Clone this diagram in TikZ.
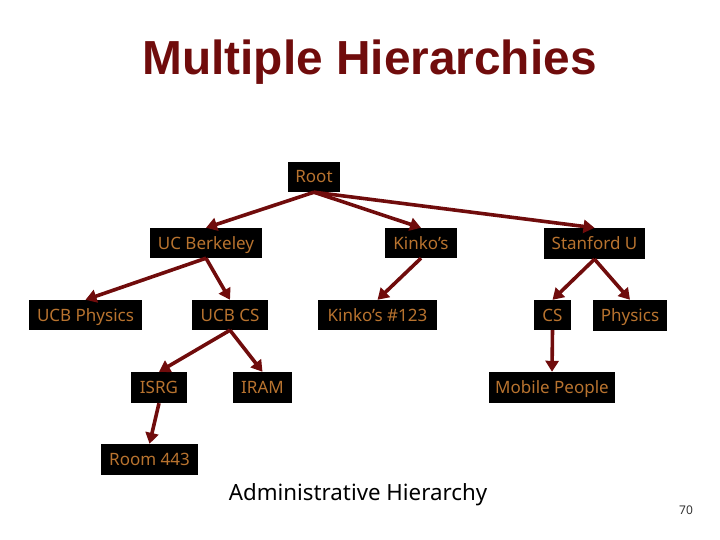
\documentclass[tikz,border=0pt]{standalone}
\usepackage{fontspec}
\setmainfont{Noto Sans}
\newfontfamily\titlefont{Liberation Sans}
\usetikzlibrary{arrows.meta}
\definecolor{darkred}{HTML}{700C0C}
\definecolor{labelc}{HTML}{B8732F}
\tikzset{
  box/.style={fill=black,text=labelc,inner sep=0pt,text height=16pt,text depth=4pt,font=\fontsize{17}{20}\selectfont},
  link/.style={draw=darkred,line width=3.6pt,-{Triangle[length=11pt,width=13pt]}}
}
\newcommand{\bx}[6]{\node[box,minimum width=#4pt-#3pt,minimum height=#6pt-#5pt] (#1) at ({(#3+#4)/2},{(#5+#6)/2}) {#2};}
\begin{document}
\begin{tikzpicture}[x=1pt,y=-1pt]
\useasboundingbox (0,0) rectangle (720,540);
\node[text=darkred,inner sep=0pt,font=\titlefont\bfseries\fontsize{47.8}{50}\selectfont] (title) at (369.5,62.5) {Multiple Hierarchies};
\bx{root}{Root}{288}{340}{162}{192}
\bx{ucb}{UC Berkeley}{150}{262}{228}{258}
\bx{kin}{Kinko’s}{385}{457}{228}{258}
\bx{stan}{Stanford U}{544}{645}{228}{259}
\bx{phys}{UCB Physics}{29}{142}{300}{330}
\bx{ucbcs}{UCB CS}{192}{268}{300}{330}
\bx{kin2}{Kinko’s \#123}{318}{437}{300}{330}
\bx{cs}{CS}{534}{571}{300}{330}
\bx{sphys}{Physics}{593}{667}{300}{331}
\bx{isrg}{ISRG}{131}{187}{372}{403}
\bx{iram}{IRAM}{233}{292}{372}{403}
\bx{mob}{Mobile People}{489}{615}{372}{403}
\bx{room}{Room 443}{101}{198}{444}{475}
\foreach \a/\b in {root/ucb,root/kin,root/stan,ucb/phys,ucb/ucbcs,kin/kin2,stan/cs,stan/sphys,cs/mob,ucbcs/isrg,ucbcs/iram,isrg/room}
  \draw[link] (\a.south) -- (\b.north);
\node[text=black,inner sep=0pt,font=\fontsize{22.3}{26}\selectfont] (cap) at (358,494.5) {Administrative Hierarchy};
\node[text=black!80,inner sep=0pt,font=\fontsize{12}{14}\selectfont] (num) at (686,510) {70};
\end{tikzpicture}
\end{document}
